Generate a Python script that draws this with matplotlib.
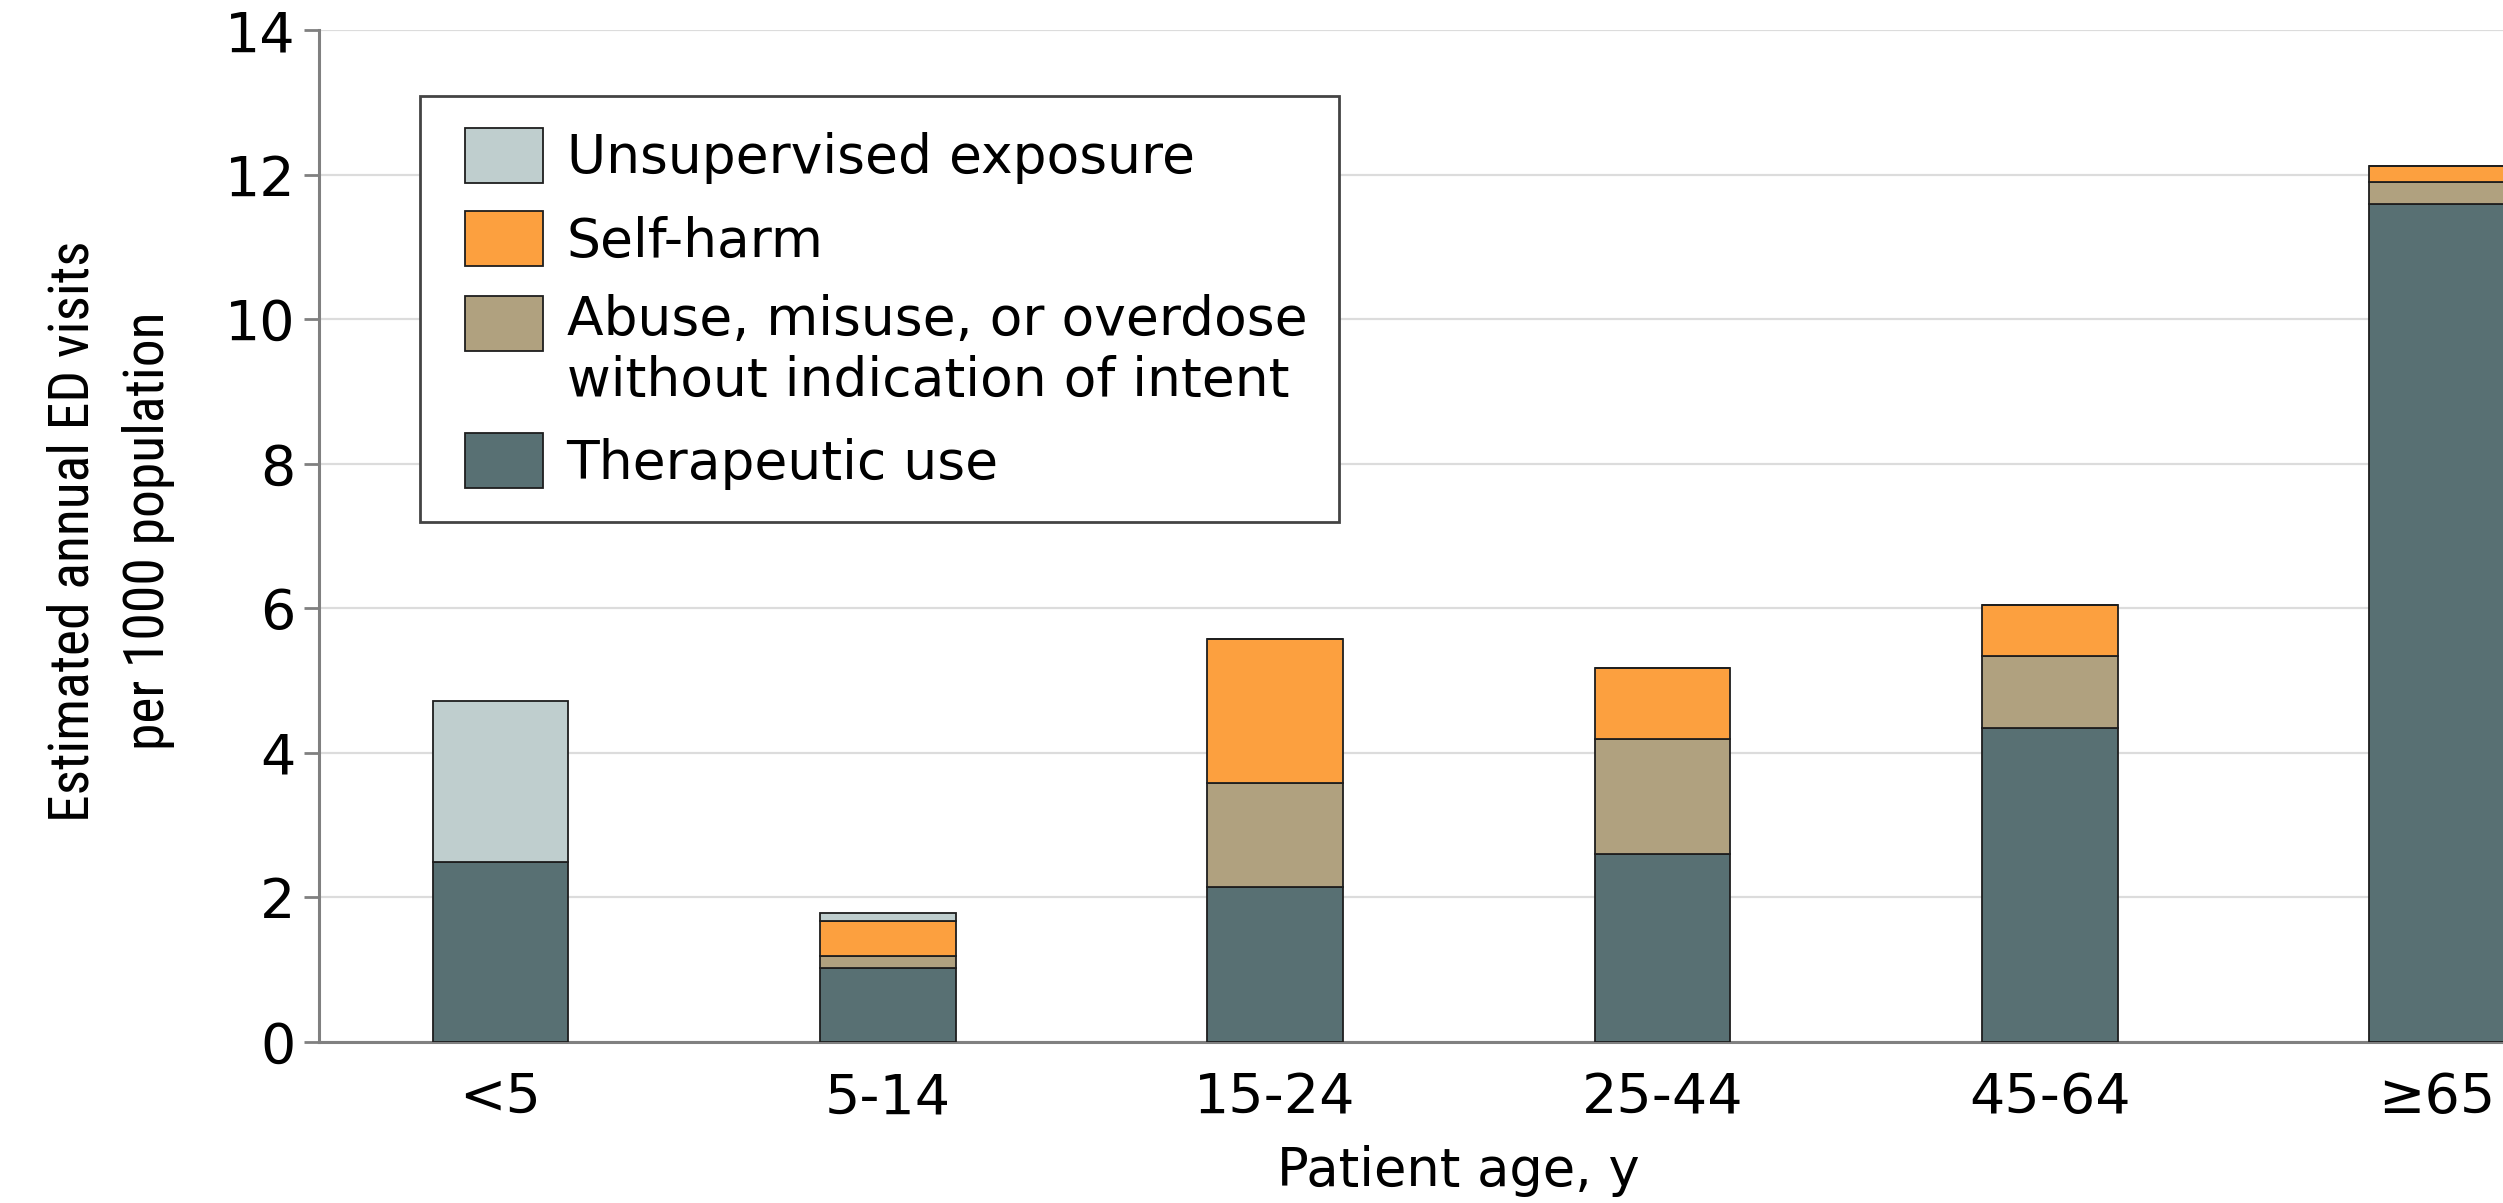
import matplotlib.pyplot as plt
from matplotlib import font_manager
from matplotlib.patches import Patch, Rectangle
from matplotlib.legend_handler import HandlerPatch
import numpy as np

ages = ['<5', '5-14', '15-24', '25-44', '45-64', '≥65']
therapeutic = [2.49, 1.02, 2.14, 2.60, 4.35, 11.59]
abuse = [0.0, 0.17, 1.44, 1.59, 0.99, 0.31]
self_harm = [0.0, 0.49, 2.00, 0.98, 0.71, 0.22]
unsupervised = [2.23, 0.11, 0.0, 0.0, 0.0, 0.0]

labels = [
    'Unsupervised exposure',
    'Self-harm',
    'Abuse, misuse, or overdose\nwithout indication of intent',
    'Therapeutic use',
]
colors = ['#bfcece', '#fca03f', '#b0a17f', '#587073']
edge_color = '#1e1e1e'

plt.rcParams['font.family'] = ['DejaVu Sans']

# narrow face for the y label if one is there
try:
    font_manager.findfont('Roboto Condensed', fallback_to_default=False)
    ylab_family, ylab_size = 'Roboto Condensed', 40
except ValueError:
    ylab_family, ylab_size = 'DejaVu Sans', 35

fig = plt.figure(figsize=(25.03, 12.03), dpi=100)
ax = fig.add_axes([0.1275, 0.1338, 0.8725, 0.8412])

x = np.arange(len(ages))
width = 0.35
edge = dict(edgecolor=edge_color, linewidth=1.3, zorder=3)

bottom = np.zeros(len(ages))
ax.bar(x, therapeutic, width, bottom=bottom, color=colors[3], **edge)
bottom += therapeutic
ax.bar(x, abuse, width, bottom=bottom, color=colors[2], **edge)
bottom += abuse
ax.bar(x, self_harm, width, bottom=bottom, color=colors[1], **edge)
bottom += self_harm
ax.bar(x, unsupervised, width, bottom=bottom, color=colors[0], **edge)

ax.set_xlim(-0.468, 5.17)
ax.set_ylim(0, 14)
ax.set_yticks(range(0, 15, 2))
ax.set_xticks(x)
ax.set_xticklabels(ages)

ax.yaxis.grid(True, color='#dcdcdc', linewidth=1.6, zorder=0)
ax.set_axisbelow(True)

for side in ['top', 'right']:
    ax.spines[side].set_visible(False)
for side in ['left', 'bottom']:
    ax.spines[side].set_color('#808080')
    ax.spines[side].set_linewidth(2.2)

ax.tick_params(axis='y', length=11, width=2, color='#808080', pad=6,
               labelsize=40)
ax.tick_params(axis='x', length=0, pad=21, labelsize=40)

ax.set_xlabel('Patient age, y', fontsize=38)
ax.xaxis.set_label_coords(0.5215, -0.102)
ax.set_ylabel('Estimated annual ED visits\nper 1000 population',
              fontsize=ylab_size, linespacing=1.55, va='center',
              family=ylab_family)
ax.yaxis.set_label_coords(-0.0955, 0.505)


def box_patch(legend, orig_handle, xdescent, ydescent, width, height, fontsize):
    return Rectangle((-xdescent + 0.24 * fontsize, -ydescent),
                     width - 0.24 * fontsize, height)


# the two-line entry keeps its box level with the first line
def top_patch(legend, orig_handle, xdescent, ydescent, width, height, fontsize):
    return Rectangle((-xdescent + 0.24 * fontsize, -ydescent + 0.55 * fontsize),
                     width - 0.24 * fontsize, height)


handles = [Patch(facecolor=c, edgecolor=edge_color, linewidth=1.3)
           for c in colors]
hmap = {h: HandlerPatch(patch_func=box_patch) for h in handles}
hmap[handles[2]] = HandlerPatch(patch_func=top_patch)
leg = ax.legend(handles, labels, handler_map=hmap,
                loc='upper left', bbox_to_anchor=(0.0462, 0.935),
                borderaxespad=0, fontsize=38.5, fancybox=False,
                framealpha=1, edgecolor='#444444',
                handlelength=1.7, handleheight=1.2, handletextpad=0.44,
                labelspacing=0.5, borderpad=0.6)
leg.get_frame().set_linewidth(2)

fig.savefig('out.png', dpi=100)
